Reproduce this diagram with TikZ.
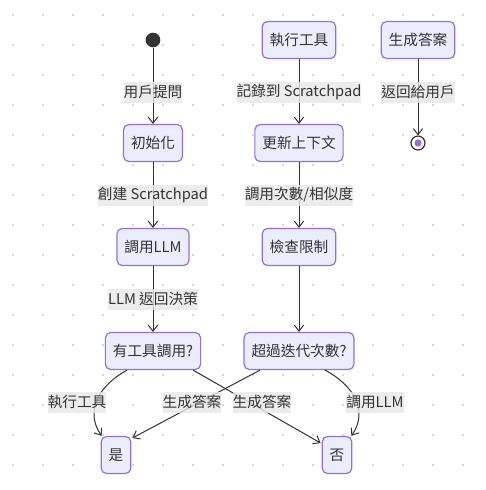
\documentclass[tikz,border=0pt]{standalone}
\usepackage{fontspec}
\setmainfont{Noto Sans CJK TC}
\usetikzlibrary{arrows.meta,calc}
\definecolor{nfill}{HTML}{ECECFF}
\definecolor{nborder}{HTML}{9370DB}
\definecolor{ink}{HTML}{333333}
\definecolor{lblbg}{HTML}{E8E8E8}
\definecolor{dotc}{HTML}{D6D6D6}
\tikzset{
  statebox/.style={draw=nborder, fill=nfill, line width=0.9pt, rounded corners=4pt,
    text=ink, inner xsep=5.6pt, inner ysep=0pt, minimum height=27.75pt,
    font=\fontsize{11pt}{13pt}\selectfont},
  lbl/.style={fill=lblbg, fill opacity=0.8, text opacity=1, text=ink, inner xsep=0pt,
    inner ysep=0pt, minimum height=15.75pt, font=\fontsize{11pt}{13pt}\selectfont},
  edge/.style={draw=ink, line width=0.75pt, -{Straight Barb[length=4.5pt,width=7pt,line width=0.75pt]}},
}
\begin{document}
\begin{tikzpicture}[x=0.75pt,y=-0.75pt]
\useasboundingbox (0,0) rectangle (486,490);
\fill[white] (0,0) rectangle (486,490);
% dot grid
\foreach \i in {0,...,15} {
  \foreach \j in {0,...,15} {
    \fill[dotc] (13+30*\i,15+30*\j) circle (1.4);
  }
}
% nodes
\node[circle, fill=ink, minimum size=11pt, inner sep=0pt] (start) at (153,40) {};
\node[statebox] (init) at (153,143) {初始化};
\node[statebox] (llm) at (153,247) {調用LLM};
\node[statebox] (q1) at (153,351) {有工具調用?};
\node[statebox] (exec) at (299,40) {執行工具};
\node[statebox] (upd) at (299,143) {更新上下文};
\node[statebox] (chk) at (299,247) {檢查限制};
\node[statebox] (q2) at (299,351) {超過迭代次數?};
\node[statebox] (gen) at (418,40) {生成答案};
\node[circle, draw=ink, fill=white, line width=0.9pt, minimum size=10.5pt, inner sep=0pt] (end) at (418,143) {};
\fill[nborder] (end.center) circle (3.6);
\node[statebox] (yes) at (116,455) {是};
\node[statebox] (no) at (337,455) {否};
% edges
\draw[edge] (start) -- (init);
\draw[edge] (init) -- (llm);
\draw[edge] (llm) -- (q1);
\draw[edge] (exec) -- (upd);
\draw[edge] (upd) -- (chk);
\draw[edge] (chk) -- (q2);
\draw[edge] (gen) -- (end);
\draw[edge] ($(q1.south)+(-26,0)$) .. controls (100,385) and (84,410) .. ($(yes.north west)+(1,0)$);
\draw[edge] ($(q1.south)+(40,0)$) -- ($(no.west)+(-1,-12)$);
\draw[edge] ($(q2.south)+(-39,0)$) -- ($(yes.east)+(1,-17)$);
\draw[edge] ($(q2.south)+(26,0)$) .. controls (353,385) and (369,410) .. ($(no.north east)+(-1,0)$);
% labels
\node[lbl] (l1) at (153,92) {用戶提問};
\node[lbl] (l2) at (153,195) {創建 Scratchpad};
\node[lbl] (l3) at (153,299) {LLM 返回決策};
\node[lbl] (l4) at (299,92) {記錄到 Scratchpad};
\node[lbl] (l5) at (299,195) {調用次數/相似度};
\node[lbl] (l6) at (418,92) {返回給用戶};
\node[lbl] (l7) at (77,402) {執行工具};
\node[lbl] (l8) at (192,402) {生成答案};
\node[lbl] (l9) at (262,402) {生成答案};
\node[lbl] (l10) at (375,402) {調用LLM};
\end{tikzpicture}
\end{document}
